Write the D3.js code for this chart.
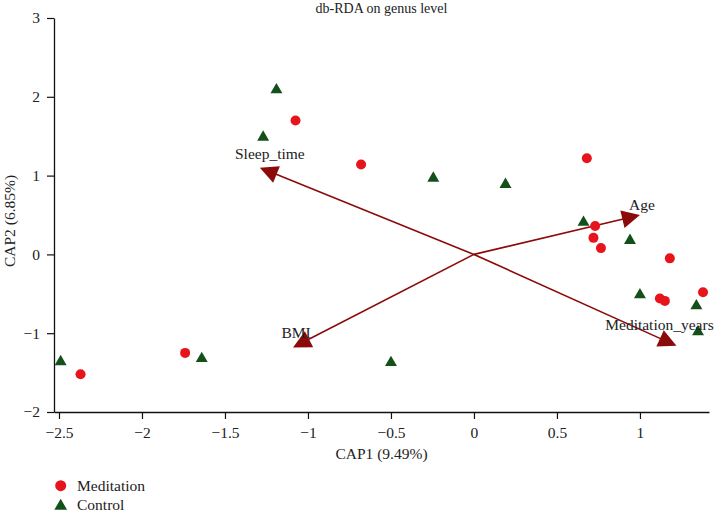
<!DOCTYPE html>
<html><head><meta charset="utf-8">
<script src="https://cdn.jsdelivr.net/npm/d3@7"></script>
<style>
body{margin:0;background:#fff;}
text{font-family:"Liberation Serif","Times New Roman",serif;fill:#222;}
</style></head>
<body><svg id="c" width="718" height="514"></svg>
<script>
// ---- data ----
const meditationX = [-1.075, -0.68, 0.68, 0.73, 0.72, 0.765, 1.18, 1.12, 1.15, 1.38, -1.74, -2.37];
const meditationY = [1.70, 1.14, 1.22, 0.36, 0.21, 0.08, -0.05, -0.56, -0.59, -0.48, -1.25, -1.52];
const controlX = [-1.19, -1.27, -0.245, 0.19, 0.66, 0.94, 1.00, 1.34, 1.35, -0.50, -2.49, -1.64];
const controlY = [2.10, 1.50, 0.98, 0.90, 0.42, 0.19, -0.50, -0.64, -0.97, -1.36, -1.35, -1.31];
const envNames = ["Sleep_time", "Age", "BMI", "Meditation_years"];
const envX = [-1.29, 1.00, -1.09, 1.22];
const envY = [1.10, 0.50, -1.18, -1.16];
const xTicks = [-2.5, -2, -1.5, -1, -0.5, 0, 0.5, 1];
const yTicks = [-2, -1, 0, 1, 2, 3];
const titleText = "db-RDA on genus level";
const xLabel = "CAP1 (9.49%)";
const yLabel = "CAP2 (6.85%)";
const legendNames = ["Meditation", "Control"];

// ---- layout / style ----
const labelOffsets = [[10, -9], [2, -5], [3, -9], [-17, -16]];
const red = "#e8141b", green = "#14501a", arrowCol = "#8b0a0a";
const svg = d3.select("#c");
const x = d3.scaleLinear().domain([-2.53, 1.416]).range([54, 709]);
const y = d3.scaleLinear().domain([-2, 3]).range([412, 18]);
const fmt = d3.format("");

// axes
const gx = svg.append("g").attr("transform", `translate(0,${y(-2)})`)
  .call(d3.axisBottom(x).tickValues(xTicks).tickFormat(d => fmt(d)).tickSize(7).tickSizeOuter(0));
const gy = svg.append("g").attr("transform", `translate(${x.range()[0]},0)`)
  .call(d3.axisLeft(y).tickValues(yTicks).tickFormat(d => fmt(d)).tickSize(7).tickSizeOuter(0));
[gx, gy].forEach(g => {
  g.select(".domain").attr("stroke", "#111").attr("stroke-width", 1.3);
  g.selectAll(".tick line").attr("stroke", "#111").attr("stroke-width", 1.2);
  g.selectAll(".tick text").attr("font-size", 15.5).attr("fill", "#222")
    .attr("font-family", "Liberation Serif, serif");
});
gx.selectAll(".tick text").attr("dy", "1.05em");
gy.selectAll(".tick text").attr("x", -14);

// titles
svg.append("text").attr("x", (x.range()[0] + x.range()[1]) / 2).attr("y", 13)
  .attr("text-anchor", "middle").attr("font-size", 14).text(titleText);
svg.append("text").attr("x", (x.range()[0] + x.range()[1]) / 2).attr("y", 459)
  .attr("text-anchor", "middle").attr("font-size", 15.5).text(xLabel);
svg.append("text").attr("transform", "translate(15,221) rotate(-90)")
  .attr("text-anchor", "middle").attr("font-size", 15.5).text(yLabel);

// arrows
const env = envNames.map((n, i) => ({name: n, x: envX[i], y: envY[i], off: labelOffsets[i]}));
const ag = svg.append("g");
env.forEach(e => {
  const x0 = x(0), y0 = y(0), x1 = x(e.x), y1 = y(e.y);
  const dx = x1 - x0, dy = y1 - y0, L = Math.hypot(dx, dy);
  const ux = dx / L, uy = dy / L, px = -uy, py = ux;
  const hl = 18, hw = 9;
  const bx = x1 - ux * hl, by = y1 - uy * hl;
  ag.append("line").attr("x1", x0).attr("y1", y0).attr("x2", bx + ux * 3).attr("y2", by + uy * 3)
    .attr("stroke", arrowCol).attr("stroke-width", 1.6);
  ag.append("polygon")
    .attr("points", [[x1, y1], [bx + px * hw, by + py * hw], [bx - px * hw, by - py * hw]].map(p => p.join(",")).join(" "))
    .attr("fill", arrowCol);
});

// points
const pts = svg.append("g");
pts.selectAll("circle").data(meditationX.map((v, i) => [v, meditationY[i]])).join("circle")
  .attr("cx", d => x(d[0])).attr("cy", d => y(d[1])).attr("r", 5).attr("fill", red);
const tri = d3.symbol().type(d3.symbolTriangle).size(62);
pts.selectAll("path.ctl").data(controlX.map((v, i) => [v, controlY[i]])).join("path")
  .attr("class", "ctl").attr("d", tri)
  .attr("transform", d => `translate(${x(d[0])},${y(d[1]) + 1})`).attr("fill", green);

// arrow labels
svg.append("g").selectAll("text").data(env).join("text")
  .attr("x", d => x(d.x) + d.off[0]).attr("y", d => y(d.y) + d.off[1])
  .attr("text-anchor", "middle").attr("font-size", 15.5).text(d => d.name);

// legend
const lg = svg.append("g");
lg.append("circle").attr("cx", 60.7).attr("cy", 485.7).attr("r", 5.5).attr("fill", red);
lg.append("path").attr("d", d3.symbol().type(d3.symbolTriangle).size(70))
  .attr("transform", "translate(60.7,506)").attr("fill", green);
lg.selectAll("text").data(legendNames).join("text")
  .attr("x", 77).attr("y", (d, i) => 490.5 + i * 19.5).attr("font-size", 15.5).text(d => d);
</script></body></html>
